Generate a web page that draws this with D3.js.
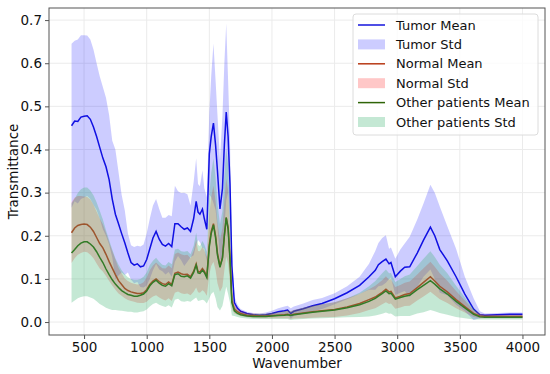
<html>
<head>
<meta charset="utf-8">
<script src="https://cdn.jsdelivr.net/npm/d3@7"></script>
<style>
  body { margin: 0; background: #fff; font-family: "DejaVu Sans", sans-serif; }
  svg text { font-family: "DejaVu Sans", sans-serif; }
</style>
</head>
<body>
<svg id="chart"></svg>
<script>
// wavenumber grid (cm-1) shared by every series
let wavenumbers = [400,425,450,475,500,525,550,575,600,625,
  650,675,700,725,750,775,800,825,850,875,
  900,925,950,975,1000,1025,1050,1075,1100,1125,
  1150,1175,1200,1225,1250,1275,1300,1325,1350,1375,
  1395,1410,1425,1445,1460,1480,1500,1515,1533,1550,
  1565,1585,1605,1620,1635,1650,1665,1680,1700,1725,
  1750,1800,1850,1900,1950,2000,2050,2100,2125,2150,
  2175,2250,2325,2400,2500,2600,2700,2775,2825,2850,
  2880,2910,2935,2950,2985,3025,3060,3100,3160,3210,
  3265,3300,3340,3400,3470,3540,3610,3660,3700,3800,
  3900,4000]

let tumorMean = [0.455,0.466,0.465,0.475,0.477,0.478,0.47,0.452,0.43,0.405,
  0.38,0.36,0.33,0.285,0.25,0.228,0.205,0.184,0.16,0.138,
  0.132,0.135,0.128,0.13,0.145,0.17,0.195,0.21,0.192,0.18,
  0.176,0.182,0.175,0.228,0.228,0.221,0.215,0.218,0.21,0.24,
  0.28,0.255,0.25,0.262,0.24,0.215,0.39,0.43,0.461,0.41,
  0.35,0.262,0.31,0.41,0.487,0.43,0.32,0.13,0.045,0.032,
  0.025,0.02,0.017,0.016,0.017,0.02,0.024,0.026,0.028,0.02,
  0.025,0.031,0.038,0.043,0.054,0.068,0.085,0.105,0.12,0.133,
  0.14,0.146,0.135,0.138,0.105,0.118,0.127,0.128,0.16,0.19,
  0.22,0.2,0.168,0.142,0.105,0.065,0.03,0.017,0.016,0.017,
  0.018,0.018]
let tumorStd = [0.19,0.186,0.19,0.19,0.188,0.186,0.185,0.18,0.17,0.165,
  0.165,0.16,0.15,0.135,0.15,0.12,0.09,0.075,0.045,0.04,
  0.042,0.042,0.047,0.05,0.06,0.07,0.075,0.075,0.07,0.062,
  0.066,0.066,0.07,0.088,0.075,0.078,0.085,0.078,0.06,0.085,
  0.1,0.065,0.065,0.09,0.07,0.075,0.095,0.14,0.185,0.15,
  0.13,0.115,0.17,0.19,0.205,0.13,0.1,0.04,0.015,0.008,
  0.005,0.004,0.004,0.004,0.005,0.006,0.008,0.01,0.01,0.012,
  0.011,0.012,0.013,0.013,0.013,0.015,0.02,0.03,0.045,0.05,
  0.055,0.055,0.035,0.035,0.042,0.05,0.055,0.07,0.078,0.085,
  0.098,0.1,0.1,0.08,0.065,0.04,0.025,0.008,0.004,0.004,
  0.004,0.004]

let normalMean = [0.207,0.218,0.224,0.226,0.227,0.226,0.22,0.21,0.196,0.182,
  0.172,0.157,0.14,0.125,0.11,0.096,0.087,0.078,0.073,0.07,
  0.068,0.066,0.066,0.068,0.075,0.087,0.095,0.1,0.094,0.089,
  0.087,0.093,0.087,0.113,0.116,0.112,0.11,0.111,0.105,0.118,
  0.135,0.117,0.116,0.124,0.118,0.106,0.18,0.21,0.228,0.2,
  0.16,0.13,0.15,0.2,0.242,0.22,0.15,0.05,0.03,0.024,
  0.02,0.016,0.015,0.014,0.014,0.015,0.016,0.017,0.018,0.016,
  0.018,0.021,0.024,0.026,0.029,0.035,0.043,0.052,0.058,0.063,
  0.069,0.076,0.07,0.071,0.056,0.06,0.064,0.066,0.08,0.092,
  0.105,0.095,0.083,0.07,0.052,0.036,0.02,0.014,0.013,0.013,
  0.013,0.013]
let normalStd = [0.07,0.07,0.068,0.066,0.064,0.064,0.064,0.062,0.06,0.058,
  0.055,0.05,0.045,0.04,0.035,0.03,0.026,0.023,0.022,0.021,
  0.021,0.021,0.022,0.024,0.028,0.033,0.036,0.038,0.037,0.036,
  0.037,0.038,0.038,0.045,0.045,0.045,0.045,0.045,0.043,0.048,
  0.055,0.048,0.048,0.05,0.048,0.045,0.07,0.08,0.088,0.08,
  0.07,0.06,0.068,0.08,0.09,0.085,0.06,0.02,0.01,0.007,
  0.006,0.005,0.005,0.005,0.005,0.006,0.007,0.008,0.009,0.009,
  0.01,0.012,0.014,0.015,0.017,0.02,0.022,0.024,0.026,0.027,
  0.028,0.03,0.028,0.028,0.025,0.026,0.027,0.028,0.03,0.033,
  0.035,0.033,0.03,0.026,0.02,0.014,0.008,0.005,0.004,0.004,
  0.004,0.004]

let otherMean = [0.16,0.168,0.177,0.183,0.186,0.186,0.181,0.174,0.163,0.15,
  0.138,0.123,0.11,0.098,0.088,0.08,0.073,0.068,0.064,0.062,
  0.06,0.06,0.062,0.065,0.072,0.084,0.092,0.097,0.09,0.085,
  0.083,0.089,0.084,0.11,0.112,0.106,0.105,0.107,0.102,0.115,
  0.132,0.114,0.113,0.12,0.115,0.103,0.175,0.205,0.225,0.195,
  0.155,0.127,0.148,0.2,0.242,0.215,0.145,0.045,0.026,0.02,
  0.017,0.014,0.013,0.013,0.013,0.014,0.015,0.016,0.017,0.015,
  0.017,0.02,0.023,0.025,0.028,0.033,0.04,0.048,0.055,0.06,
  0.066,0.072,0.066,0.067,0.053,0.057,0.06,0.062,0.075,0.085,
  0.096,0.088,0.077,0.065,0.048,0.033,0.018,0.012,0.011,0.011,
  0.011,0.011]
let otherStd = [0.115,0.118,0.122,0.125,0.126,0.126,0.124,0.12,0.115,0.108,
  0.1,0.09,0.08,0.07,0.06,0.053,0.047,0.043,0.04,0.038,
  0.038,0.038,0.038,0.04,0.043,0.048,0.05,0.052,0.05,0.048,
  0.048,0.05,0.05,0.058,0.058,0.058,0.058,0.058,0.055,0.062,
  0.075,0.065,0.063,0.068,0.065,0.06,0.12,0.14,0.155,0.14,
  0.12,0.1,0.11,0.14,0.16,0.15,0.1,0.03,0.012,0.008,
  0.007,0.006,0.006,0.006,0.006,0.007,0.008,0.009,0.01,0.01,
  0.011,0.013,0.015,0.016,0.018,0.022,0.028,0.035,0.04,0.043,
  0.047,0.05,0.047,0.047,0.04,0.043,0.046,0.048,0.055,0.062,
  0.068,0.063,0.056,0.048,0.036,0.024,0.012,0.006,0.005,0.005,
  0.005,0.005]

let xTicks = [500, 1000, 1500, 2000, 2500, 3000, 3500, 4000]
let yTicks = [0.0, 0.1, 0.2, 0.3, 0.4, 0.5, 0.6, 0.7]

let seriesNames = ["Tumor", "Normal", "Other patients"]
let seriesColors = {
  "Tumor": { line: "#1414dc", fill: "#0000ff", opacity: 0.2 },
  "Normal": { line: "#b83a16", fill: "#ff0000", opacity: 0.22 },
  "Other patients": { line: "#2f6408", fill: "#3cb371", opacity: 0.3 }
}

function buildSeries() {
  let means = [tumorMean, normalMean, otherMean]
  let stds = [tumorStd, normalStd, otherStd]
  return seriesNames.map((name, i) => ({
    name: name,
    points: wavenumbers.map((w, j) => ({ x: w, mean: means[i][j], std: stds[i][j] }))
  }))
}

function getConfig() {
  let width = 550
  let height = 374
  let margin = { top: 8, bottom: 39, left: 49, right: 5 }
  let bodyWidth = width - margin.left - margin.right
  let bodyHeight = height - margin.top - margin.bottom
  let container = d3.select("#chart").attr("width", width).attr("height", height)
  return { width, height, margin, bodyWidth, bodyHeight, container }
}

function getScales(config) {
  let xScale = d3.scaleLinear()
    .domain([220, 4180])
    .range([config.margin.left, config.margin.left + config.bodyWidth])
  let yScale = d3.scaleLinear()
    .domain([-0.03, 0.728])
    .range([config.margin.top + config.bodyHeight, config.margin.top])
  return { xScale, yScale }
}

function drawGrid(scales, config) {
  let { xScale, yScale } = scales
  let { container, margin, bodyWidth, bodyHeight } = config
  let grid = container.append("g")
  grid.selectAll(".gx").data(xTicks).enter().append("line")
    .attr("x1", d => xScale(d)).attr("x2", d => xScale(d))
    .attr("y1", margin.top).attr("y2", margin.top + bodyHeight)
    .attr("stroke", "#ebebeb").attr("stroke-width", 1)
  grid.selectAll(".gy").data(yTicks).enter().append("line")
    .attr("y1", d => yScale(d)).attr("y2", d => yScale(d))
    .attr("x1", margin.left).attr("x2", margin.left + bodyWidth)
    .attr("stroke", "#ebebeb").attr("stroke-width", 1)
}

function drawSeries(series, scales, config) {
  let { xScale, yScale } = scales
  let body = config.container.append("g")
  let area = d3.area()
    .x(d => xScale(d.x))
    .y0(d => yScale(d.mean - d.std))
    .y1(d => yScale(d.mean + d.std))
  let line = d3.line()
    .x(d => xScale(d.x))
    .y(d => yScale(d.mean))

  series.forEach(s => {
    let c = seriesColors[s.name]
    body.append("path")
      .attr("d", line(s.points))
      .attr("fill", "none")
      .attr("stroke", c.line)
      .attr("stroke-width", 1.5)
    body.append("path")
      .attr("d", area(s.points))
      .attr("fill", c.fill)
      .attr("fill-opacity", c.opacity)
  })
}

function drawAxes(scales, config) {
  let { xScale, yScale } = scales
  let { container, margin, bodyWidth, bodyHeight, height } = config

  let axisX = d3.axisBottom(xScale).tickValues(xTicks).tickSize(4).tickPadding(3).tickFormat(d3.format("d"))
  let gx = container.append("g")
    .attr("transform", `translate(0,${margin.top + bodyHeight})`)
    .call(axisX)
  let axisY = d3.axisLeft(yScale).tickValues(yTicks).tickSize(4).tickPadding(3).tickFormat(d3.format(".1f"))
  let gy = container.append("g")
    .attr("transform", `translate(${margin.left},0)`)
    .call(axisY)

  ;[gx, gy].forEach(g => {
    g.select(".domain").remove()
    g.selectAll(".tick line").attr("stroke", "#555")
    g.selectAll(".tick text").attr("font-size", 13.5).attr("fill", "#111")
  })

  // frame
  container.append("rect")
    .attr("x", margin.left).attr("y", margin.top)
    .attr("width", bodyWidth).attr("height", bodyHeight)
    .attr("fill", "none").attr("stroke", "#555").attr("stroke-width", 1)

  container.append("text")
    .attr("x", margin.left + bodyWidth / 2)
    .attr("y", height - 6)
    .attr("text-anchor", "middle")
    .attr("font-size", 13.5)
    .attr("fill", "#111")
    .text("Wavenumber")

  container.append("text")
    .attr("transform", `translate(18,${margin.top + bodyHeight / 2}) rotate(-90)`)
    .attr("text-anchor", "middle")
    .attr("font-size", 13.5)
    .attr("fill", "#111")
    .text("Transmittance")
}

function drawLegend(config) {
  let entries = []
  seriesNames.forEach(name => {
    entries.push({ label: name + " Mean", type: "line", name: name })
    entries.push({ label: name + " Std", type: "patch", name: name })
  })
  let legend = config.container.append("g").attr("transform", "translate(353,14)")
  legend.append("rect")
    .attr("width", 185).attr("height", 121).attr("rx", 3)
    .attr("fill", "#fff").attr("fill-opacity", 0.8)
    .attr("stroke", "#dcdcdc")
  let rows = legend.selectAll(".row").data(entries).enter().append("g")
    .attr("transform", (d, i) => `translate(0,${11 + i * 19.4})`)
  rows.filter(d => d.type == "line").append("line")
    .attr("x1", 5).attr("x2", 32).attr("y1", 0).attr("y2", 0)
    .attr("stroke", d => seriesColors[d.name].line).attr("stroke-width", 1.5)
  rows.filter(d => d.type == "patch").append("rect")
    .attr("x", 5).attr("y", -5).attr("width", 27).attr("height", 10)
    .attr("fill", d => seriesColors[d.name].fill)
    .attr("fill-opacity", d => seriesColors[d.name].opacity)
  rows.append("text")
    .attr("x", 43).attr("y", 0).attr("dy", "0.35em")
    .attr("font-size", 13).attr("fill", "#111")
    .text(d => d.label)
}

let config = getConfig()
let scales = getScales(config)
drawGrid(scales, config)
drawSeries(buildSeries(), scales, config)
drawAxes(scales, config)
drawLegend(config)
</script>
</body>
</html>
